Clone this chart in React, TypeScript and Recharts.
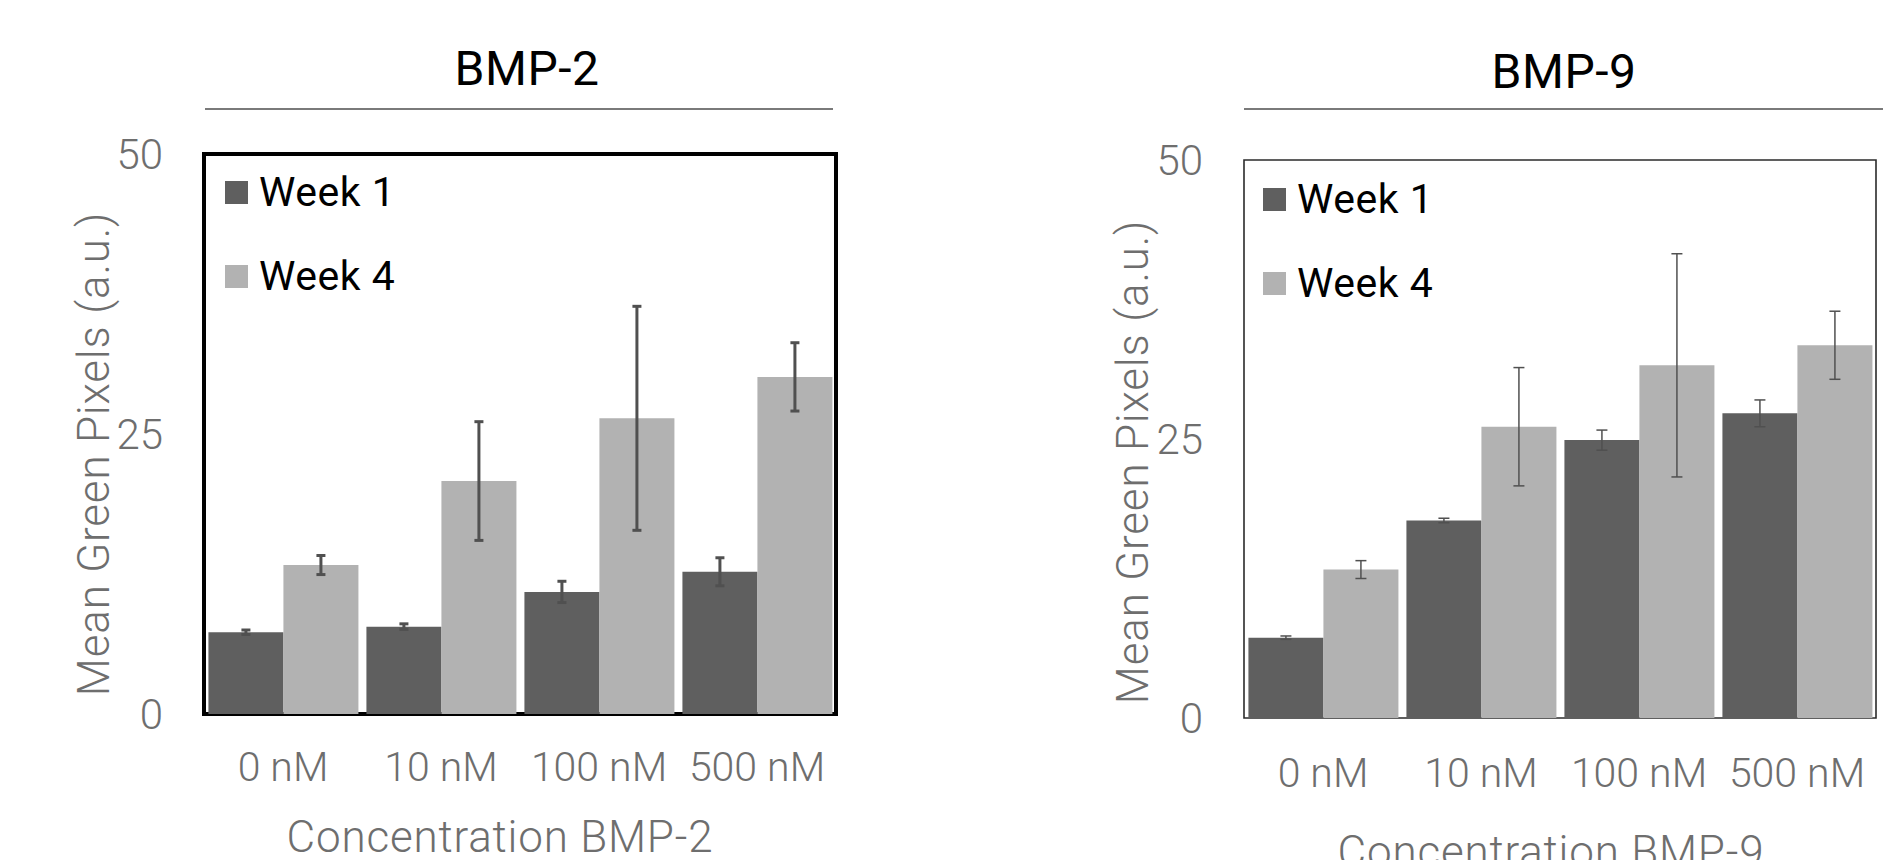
import React from 'react';
import { BarChart, Bar, XAxis, YAxis, ErrorBar, Legend, ReferenceArea, Label } from 'recharts';

const categories = ['0 nM', '10 nM', '100 nM', '500 nM'];
const yTicks = [0, 25, 50];

// BMP-2 panel
const bmp2Week1 = [7.3, 7.8, 10.9, 12.7];
const bmp2Week1Err = [0.2, 0.25, 0.95, 1.25];
const bmp2Week4 = [13.3, 20.8, 26.4, 30.1];
const bmp2Week4Err = [0.85, 5.3, 10.0, 3.05];

// BMP-9 panel
const bmp9Week1 = [7.2, 17.7, 24.9, 27.3];
const bmp9Week1Err = [0.15, 0.2, 0.9, 1.2];
const bmp9Week4 = [13.3, 26.1, 31.6, 33.4];
const bmp9Week4Err = [0.8, 5.3, 10.0, 3.05];

const DARK = '#5f5f5f';
const LIGHT = '#b2b2b2';
const AXIS_TEXT = '#6e6e6e';
const FONT = 'Roboto, "Liberation Sans", Arial, sans-serif';

const buildRows = (w1: number[], w1e: number[], w4: number[], w4e: number[]) =>
  categories.map((conc, i) => ({
    conc,
    week1: w1[i],
    week1Err: w1e[i],
    week4: w4[i],
    week4Err: w4e[i],
  }));

const renderLegend = (props: any) => {
  const { payload } = props;
  return (
    <div style={{ fontFamily: FONT }}>
      {(payload || []).map((entry: any) => (
        <div key={entry.value} style={{ display: 'flex', alignItems: 'center', height: 84 }}>
          <span style={{ width: 23, height: 23, background: entry.color, display: 'inline-block', marginRight: 11 }} />
          <span style={{ fontSize: 41, color: '#000', letterSpacing: 0.5 }}>{entry.value}</span>
        </div>
      ))}
    </div>
  );
};

interface PanelProps {
  rows: any[];
  width: number;
  top: number;
  right: number;
  axisWidth: number;
  axisHeight: number;
  frameColor: string;
  frameWidth: number;
  errWidth: number;
  errStroke: number;
  legendLeft: number;
  legendTop: number;
  yLabelOffset: number;
  yLabelDy: number;
  xLabel: string;
  xLabelOffset: number;
  xLabelDx: number;
  xTickMargin: number;
}

const labelStyle = { fontSize: 44, fill: AXIS_TEXT, fontFamily: FONT, fontWeight: 300, letterSpacing: 0.8 };

function Panel(p: PanelProps) {
  return (
    <BarChart
      width={p.width}
      height={860}
      data={p.rows}
      margin={{ top: p.top, right: p.right, bottom: 0, left: 0 }}
      barCategoryGap="2.8%"
      barGap={0}
    >
      <XAxis
        dataKey="conc"
        height={p.axisHeight}
        tickLine={false}
        axisLine={false}
        tickSize={0}
        tickMargin={p.xTickMargin}
        tick={{ fontSize: 41, fill: AXIS_TEXT, fontFamily: FONT, fontWeight: 300 }}
      >
        <Label
          value={p.xLabel}
          position="insideBottom"
          offset={p.xLabelOffset}
          dx={p.xLabelDx}
          style={labelStyle}
        />
      </XAxis>
      <YAxis
        width={p.axisWidth}
        domain={[0, 50]}
        ticks={yTicks}
        tickLine={false}
        axisLine={false}
        tickSize={0}
        tickMargin={41}
        tick={{ fontSize: 42, fill: AXIS_TEXT, fontFamily: FONT, fontWeight: 300 }}
      >
        <Label
          value="Mean Green Pixels (a.u.)"
          angle={-90}
          position="insideLeft"
          offset={p.yLabelOffset}
          dy={p.yLabelDy}
          style={{ ...labelStyle, textAnchor: 'middle' }}
        />
      </YAxis>
      <Legend
        layout="vertical"
        align="center"
        verticalAlign="middle"
        content={renderLegend}
        wrapperStyle={{ left: p.legendLeft, top: p.legendTop, width: 'auto', height: 'auto' }}
      />
      <Bar dataKey="week1" name="Week 1" fill={DARK} isAnimationActive={false}>
        <ErrorBar dataKey="week1Err" width={p.errWidth} stroke="#505050" strokeWidth={p.errStroke} />
      </Bar>
      <Bar dataKey="week4" name="Week 4" fill={LIGHT} isAnimationActive={false}>
        <ErrorBar dataKey="week4Err" width={p.errWidth} stroke="#505050" strokeWidth={p.errStroke} />
      </Bar>
      <ReferenceArea
        y1={0}
        y2={50}
        ifOverflow="visible"
        fill="none"
        fillOpacity={0}
        stroke={p.frameColor}
        strokeWidth={p.frameWidth}
      />
    </BarChart>
  );
}

const titleStyle: React.CSSProperties = {
  position: 'absolute',
  fontFamily: FONT,
  fontSize: 48,
  lineHeight: '48px',
  color: '#000',
  textAlign: 'center',
  width: 400,
  letterSpacing: 0.5,
};

export default function App() {
  const bmp2Rows = buildRows(bmp2Week1, bmp2Week1Err, bmp2Week4, bmp2Week4Err);
  const bmp9Rows = buildRows(bmp9Week1, bmp9Week1Err, bmp9Week4, bmp9Week4Err);

  return (
    <div style={{ position: 'absolute', left: 0, top: 0, width: 1883, height: 860, overflow: 'hidden', background: '#fff' }}>
      <div style={{ ...titleStyle, left: 527 - 200, top: 45 }}>BMP-2</div>
      <div style={{ position: 'absolute', left: 205, top: 108, width: 628, height: 2, background: '#7a7a7a' }} />
      <div style={{ ...titleStyle, left: 1564 - 200, top: 48 }}>BMP-9</div>
      <div style={{ position: 'absolute', left: 1244, top: 108, width: 639, height: 2, background: '#7a7a7a' }} />

      <div style={{ position: 'absolute', left: 0, top: 0 }}>
        <Panel
          rows={bmp2Rows}
          width={940}
          top={154}
          right={104}
          axisWidth={204}
          axisHeight={146}
          frameColor="#000"
          frameWidth={4}
          errWidth={4.5}
          errStroke={3}
          legendLeft={225}
          legendTop={150}
          yLabelOffset={93}
          yLabelDy={20}
          xLabel="Concentration BMP-2"
          xLabelOffset={8}
          xLabelDx={-20}
          xTickMargin={38}
        />
      </div>
      <div style={{ position: 'absolute', left: 940, top: 0 }}>
        <Panel
          rows={bmp9Rows}
          width={943}
          top={160}
          right={7}
          axisWidth={304}
          axisHeight={142}
          frameColor="#2b2b2b"
          frameWidth={1.6}
          errWidth={5.5}
          errStroke={1.5}
          legendLeft={323}
          legendTop={157}
          yLabelOffset={192}
          yLabelDy={23}
          xLabel="Concentration BMP-9"
          xLabelOffset={-7}
          xLabelDx={-9}
          xTickMargin={40}
        />
      </div>
    </div>
  );
}
